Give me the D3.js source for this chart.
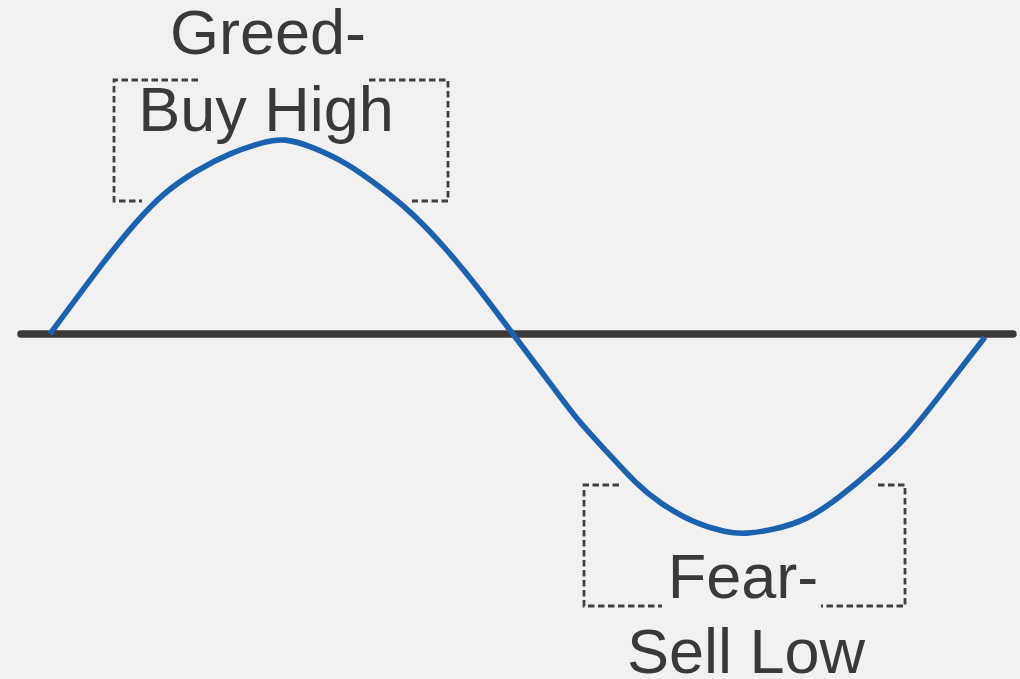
<!DOCTYPE html>
<html>
<head>
<meta charset="utf-8">
<script src="https://cdn.jsdelivr.net/npm/d3@7"></script>
<style>
  html, body { margin: 0; padding: 0; background: #f1f1f1; }
  svg { display: block; }
  text { font-family: "Liberation Sans", Arial, sans-serif; fill: #3b3838; }
</style>
</head>
<body>
<div id="chart"></div>
<script>
// market cycle: time (0-100) vs sentiment (-100..100)
const cycleTime = [0, 6.1, 9.1, 12.1, 15.7, 19.3, 22.8, 25.1, 28.1, 31.8, 35.3, 38.8, 42.5, 46.0, 49.5,
                   53.8, 56.4, 59.1, 62.8, 65.2, 68.8, 72.4, 74.3, 77.3, 81.0, 84.5, 88.0, 91.7, 95.2, 100];
const sentiment = [0, 38.7, 55.8, 70.9, 82.4, 91.0, 96.5, 98.5, 94.0, 85.9, 73.9, 60.8, 42.2, 22.1, 0,
                   -26.6, -43.2, -56.8, -75.9, -84.9, -95.0, -99.8, -100.5, -98.5, -93.5, -81.9, -68.3, -51.8, -30.7, -1.5];

const labelLines = [["Greed-", "Buy High"], ["Fear-", "Sell Low"]];

const W = 1020, H = 679;

const svg = d3.select('#chart').append('svg')
    .attr('width', W).attr('height', H);

svg.append('rect').attr('width', W).attr('height', H).attr('fill', '#f1f1f1');

const x = d3.scaleLinear().domain([0, 100]).range([50, 985]);
const y = d3.scaleLinear().domain([-100, 100]).range([533, 135]);

// dashed annotation brackets (left part, right part) — with gaps for text & curve
const brackets = [
    // top box 114..448, 80..201
    'M198,80 H114 V201 H142',
    'M369,80 H448 V201 H412',
    // bottom box 584..905, 485..606
    'M619,485 H584 V606 H662',
    'M878,485 H905 V606 H821'
];
svg.append('g').selectAll('path').data(brackets).enter().append('path')
    .attr('d', d => d)
    .attr('fill', 'none')
    .attr('stroke', '#404040')
    .attr('stroke-width', 2.8)
    .attr('stroke-dasharray', '6.5 3.5');

// baseline
svg.append('line')
    .attr('x1', 21).attr('x2', 1013)
    .attr('y1', y(0)).attr('y2', y(0))
    .attr('stroke', '#3b3838')
    .attr('stroke-width', 7.5)
    .attr('stroke-linecap', 'round');

// cycle curve
const pts = cycleTime.map((t, i) => [t, sentiment[i]]);
const line = d3.line()
    .x(d => x(d[0])).y(d => y(d[1]))
    .curve(d3.curveBasis);

svg.append('path')
    .datum(pts)
    .attr('d', line)
    .attr('fill', 'none')
    .attr('stroke', '#1a62b0')
    .attr('stroke-width', 5.6);

// labels
const labelPos = [
    { cx: [268, 266], base: [54, 131] },
    { cx: [743, 746], base: [598, 673] }
];
labelLines.forEach((lines, i) => {
    lines.forEach((s, j) => {
        svg.append('text')
            .attr('x', labelPos[i].cx[j])
            .attr('y', labelPos[i].base[j])
            .attr('text-anchor', 'middle')
            .attr('font-size', 63)
            .text(s);
    });
});
</script>
</body>
</html>
